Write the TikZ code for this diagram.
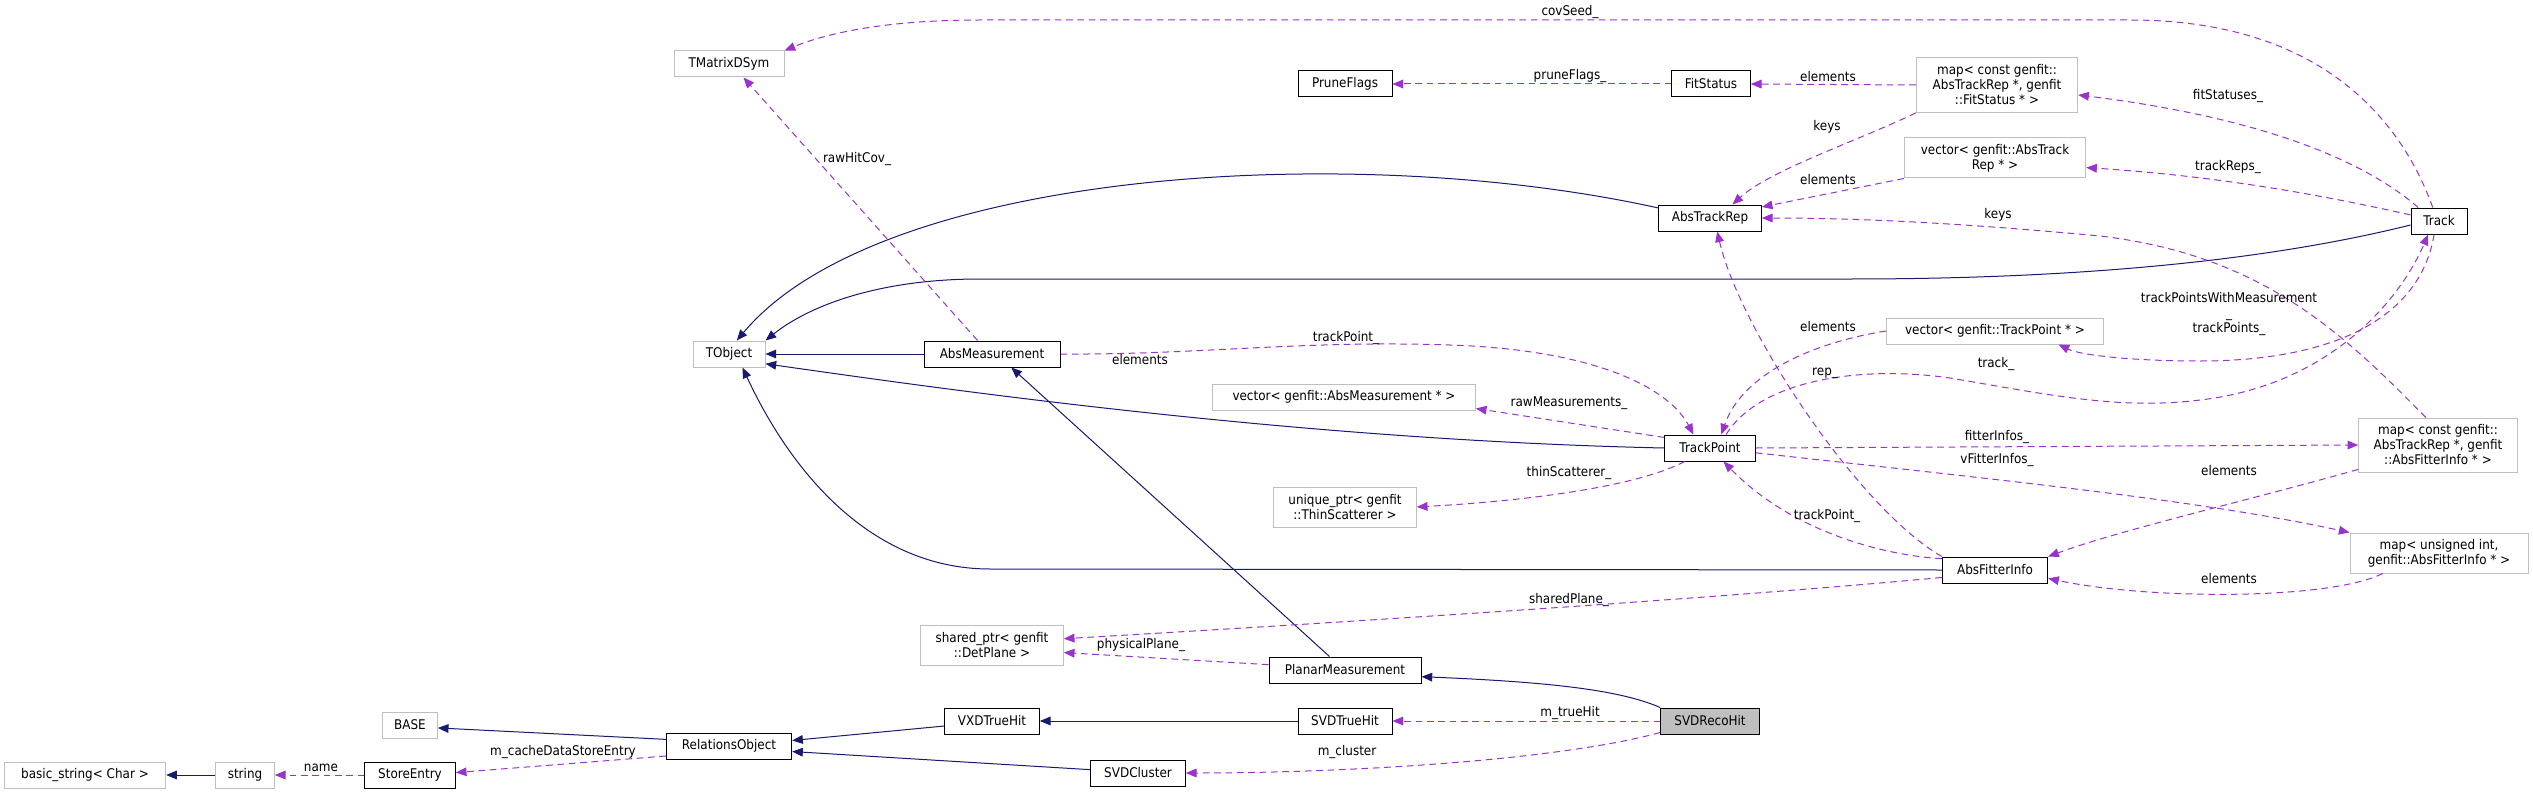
\documentclass[tikz,border=0pt]{standalone}
\usepackage{fontspec}
\setmainfont{DejaVu Sans}[FakeStretch=0.9]
\usetikzlibrary{arrows.meta}
\definecolor{inhblue}{HTML}{191970}
\definecolor{usepurple}{HTML}{9A32CD}
\definecolor{extgray}{HTML}{BFBFBF}
\tikzset{
  every node/.style={font=\fontsize{10pt}{11.25pt}\selectfont},
  cls/.style={draw=black, fill=white, line width=0.75pt, minimum height=19.5pt, inner sep=1pt, align=center},
  extcls/.style={cls, draw=extgray},
  focuscls/.style={cls, fill=extgray},
  inh/.style={inhblue, line width=0.75pt, -{Triangle[length=8pt,width=6.5pt]}},
  usage/.style={usepurple, line width=0.75pt, dash pattern=on 5pt off 3.5pt, -{Triangle[length=8pt,width=6.5pt]}},
  lbl/.style={inner sep=0pt, align=center}
}
\begin{document}
\begin{tikzpicture}[x=0.75pt, y=-0.75pt]
\path[fill=white, use as bounding box] (0,0) rectangle (2533,795);

% classes
\node[extcls, minimum width=82.5pt] (tmatrix) at (729,64) {TMatrixDSym};
\node[cls, minimum width=70.5pt] (pruneflags) at (1345,84) {PruneFlags};
\node[cls, minimum width=59pt] (fitstatus) at (1711,84) {FitStatus};
\node[extcls, minimum width=121pt, minimum height=41pt] (mapstatus) at (1997,85) {map< const genfit::\\AbsTrackRep *, genfit\\::FitStatus * >};
\node[extcls, minimum width=136pt, minimum height=30pt] (vecrep) at (1995,158) {vector< genfit::AbsTrack\\Rep * >};
\node[cls, minimum width=77pt] (abstrackrep) at (1710,218) {AbsTrackRep};
\node[cls, minimum width=42pt] (track) at (2439,221) {Track};
\node[extcls, minimum width=54pt] (tobject) at (729,354) {TObject};
\node[cls, minimum width=102pt] (absmeas) at (992,354) {AbsMeasurement};
\node[extcls, minimum width=197pt] (vecmeas) at (1344,397) {vector< genfit::AbsMeasurement * >};
\node[extcls, minimum width=163pt] (vectp) at (1995,331) {vector< genfit::TrackPoint * >};
\node[cls, minimum width=68pt] (trackpoint) at (1710,448) {TrackPoint};
\node[extcls, minimum width=107pt, minimum height=30pt] (uniq) at (1345,507) {unique\_ptr< genfit\\::ThinScatterer >};
\node[extcls, minimum width=119pt, minimum height=40.5pt] (mapinfo) at (2438,445) {map< const genfit::\\AbsTrackRep *, genfit\\::AbsFitterInfo * >};
\node[extcls, minimum width=133.5pt, minimum height=30pt] (mapuint) at (2439,553) {map< unsigned int,\\ genfit::AbsFitterInfo * >};
\node[cls, minimum width=79pt] (absfitter) at (1995,570) {AbsFitterInfo};
\node[extcls, minimum width=107pt, minimum height=30pt] (sharedptr) at (992,645) {shared\_ptr< genfit\\::DetPlane >};
\node[cls, minimum width=114pt] (planar) at (1345,670) {PlanarMeasurement};
\node[extcls, minimum width=41pt] (base) at (410,725) {BASE};
\node[cls, minimum width=94pt] (relations) at (729,746) {RelationsObject};
\node[cls, minimum width=71pt] (vxdtrue) at (992,721) {VXDTrueHit};
\node[cls, minimum width=70.5pt] (svdtrue) at (1345,721) {SVDTrueHit};
\node[focuscls, minimum width=74pt] (svdreco) at (1710,721) {SVDRecoHit};
\node[cls, minimum width=71pt] (svdcluster) at (1138,773) {SVDCluster};
\node[extcls, minimum width=121pt] (basicstr) at (85,775) {basic\_string< Char >};
\node[extcls, minimum width=44pt] (string) at (245,775) {string};
\node[cls, minimum width=68pt] (storeentry) at (410,775) {StoreEntry};

% inheritance
\draw[inh] (abstrackrep.169) .. controls (1350,140) and (880,170) .. (tobject.60);
\draw[inh] (track.188) .. controls (2250,265) and (2050,279) .. (1850,279) -- (980,279) .. controls (880,279) and (810,305) .. (tobject.north east);
\draw[inh] (absmeas.west) -- (tobject.east);
\draw[inh] (trackpoint.west) .. controls (1300,440) and (950,390) .. (tobject.-15);
\draw[inh] (absfitter.west) -- (990,569) .. controls (870,569) and (790,470) .. (tobject.-45);
\draw[inh] (planar.139) -- (absmeas.-35);
\draw[inh] (svdreco.north west) .. controls (1620,690) and (1550,682) .. (planar.-5);
\draw[inh] (svdtrue.west) -- (vxdtrue.east);
\draw[inh] (vxdtrue.186) -- (relations.5);
\draw[inh] (svdcluster.176) -- (relations.-5);
\draw[inh] (relations.174) -- (base.-6);
\draw[inh] (string.west) -- (basicstr.east);

% usage
\draw[usage] (track.115) .. controls (2405,130) and (2330,20) .. (2130,20) -- (980,20) .. controls (890,20) and (830,32) .. (tmatrix.north east);
\draw[usage] (absmeas.137) -- (tmatrix.-43);
\draw[usage] (fitstatus.west) -- (pruneflags.east);
\draw[usage] (mapstatus.west) -- (fitstatus.east);
\draw[usage] (mapstatus.south west) .. controls (1860,140) and (1770,170) .. (abstrackrep.31);
\draw[usage] (track.147) .. controls (2340,140) and (2200,110) .. (mapstatus.-7);
\draw[usage] (vecrep.south west) -- (abstrackrep.12);
\draw[usage] (track.168) .. controls (2300,190) and (2200,175) .. (vecrep.-6);
\draw[usage] (mapinfo.114) .. controls (2340,330) and (2260,255) .. (2100,236) .. controls (1950,222) and (1850,218) .. (abstrackrep.east);
\draw[usage] (track.-110) .. controls (2420,320) and (2330,361) .. (2200,361) .. controls (2130,361) and (2080,355) .. (vectp.-12);
\draw[usage] (trackpoint.40) .. controls (1760,380) and (1860,365) .. (1950,378) .. controls (2050,395) and (2120,410) .. (2200,400) .. controls (2330,385) and (2400,300) .. (track.-129);
\draw[usage] (absmeas.east) .. controls (1200,355) and (1300,340) .. (1450,345) .. controls (1600,350) and (1670,390) .. (trackpoint.141);
\draw[usage] (vectp.west) .. controls (1800,345) and (1740,380) .. (trackpoint.50);
\draw[usage] (absfitter.north west) .. controls (1860,510) and (1740,330) .. (abstrackrep.-62);
\draw[usage] (absfitter.168) .. controls (1880,555) and (1790,530) .. (trackpoint.-45);
\draw[usage] (trackpoint.167) -- (vecmeas.-5);
\draw[usage] (trackpoint.-152) .. controls (1640,485) and (1540,500) .. (uniq.east);
\draw[usage] (trackpoint.east) -- (mapinfo.west);
\draw[usage] (trackpoint.-6) .. controls (2000,480) and (2200,500) .. (mapuint.north west);
\draw[usage] (mapinfo.-163) .. controls (2250,500) and (2120,530) .. (absfitter.north east);
\draw[usage] (mapuint.-160) .. controls (2330,600) and (2150,600) .. (absfitter.-9);
\draw[usage] (absfitter.-172) .. controls (1700,600) and (1300,625) .. (sharedptr.5);
\draw[usage] (planar.176) -- (sharedptr.-6);
\draw[usage] (svdreco.west) -- (svdtrue.east);
\draw[usage] (svdreco.-167) .. controls (1560,760) and (1350,773) .. (svdcluster.east);
\draw[usage] (relations.-171) -- (storeentry.3);
\draw[usage] (storeentry.west) -- (string.east);

% labels
\node[lbl] (lcovseed) at (1570,12) {covSeed\_};
\node[lbl] (lrawhitcov) at (857,159) {rawHitCov\_};
\node[lbl] (lpruneflags) at (1570,76) {pruneFlags\_};
\node[lbl] (lelemstatus) at (1828,77) {elements};
\node[lbl] (lkeysstatus) at (1827,127) {keys};
\node[lbl] (lfitstatuses) at (2228,96) {fitStatuses\_};
\node[lbl] (ltrackreps) at (2228,167) {trackReps\_};
\node[lbl] (lelemrep) at (1828,180) {elements};
\node[lbl] (lkeysinfo) at (1998,215) {keys};
\node[lbl] (ltrackpoints) at (2229,314) {trackPointsWithMeasurement\\\_\\trackPoints\_};
\node[lbl] (lelemtp) at (1828,327) {elements};
\node[lbl] (ltrackpointmeas) at (1346,338) {trackPoint\_};
\node[lbl] (lelemmeas) at (1140,360) {elements};
\node[lbl] (ltrack) at (1996,364) {track\_};
\node[lbl] (lrep) at (1825,373) {rep\_};
\node[lbl] (lrawmeas) at (1569,403) {rawMeasurements\_};
\node[lbl] (lfitterinfos) at (1997,437) {fitterInfos\_};
\node[lbl] (lvfitterinfos) at (1997,460) {vFitterInfos\_};
\node[lbl] (lthinscat) at (1569,473) {thinScatterer\_};
\node[lbl] (lelemmapinfo) at (2229,471) {elements};
\node[lbl] (ltrackpointinfo) at (1827,516) {trackPoint\_};
\node[lbl] (lelemmapuint) at (2229,579) {elements};
\node[lbl] (lsharedplane) at (1569,600) {sharedPlane\_};
\node[lbl] (lphysplane) at (1141,645) {physicalPlane\_};
\node[lbl] (ltruehit) at (1570,713) {m\_trueHit};
\node[lbl] (lcluster) at (1347,752) {m\_cluster};
\node[lbl] (lcacheentry) at (563,752) {m\_cacheDataStoreEntry};
\node[lbl] (lname) at (321,768) {name};
\end{tikzpicture}
\end{document}
